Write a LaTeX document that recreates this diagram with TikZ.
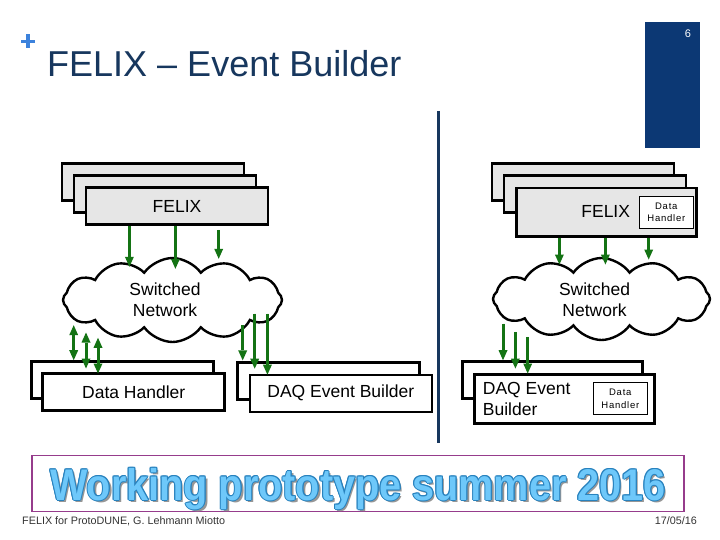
\documentclass[tikz,border=0pt]{standalone}
\usepackage{fontspec}
\setmainfont{Liberation Sans}
\usetikzlibrary{shapes.symbols,arrows.meta,calc}
\definecolor{titlenavy}{RGB}{23,55,94}
\definecolor{rectnavy}{RGB}{12,56,116}
\definecolor{plusblue}{RGB}{60,130,220}
\definecolor{arrgreen}{RGB}{20,115,20}
\definecolor{boxgray}{RGB}{230,230,230}
\definecolor{purpleb}{RGB}{150,60,140}
\definecolor{wpfill}{RGB}{110,200,250}
\definecolor{wpline}{RGB}{40,130,190}
\definecolor{wpshadow}{RGB}{150,150,150}
\newcommand{\wptxt}{\scalebox{1}[1.12]{Working prototype summer 2016}}
\begin{document}
\begin{tikzpicture}[x=1pt,y=-1pt,
  blk/.style={draw=black,line width=2.6pt,minimum width=182pt,minimum height=37pt,inner sep=0pt,anchor=center,font=\fontsize{17.5}{21}\selectfont},
  fbox/.style={blk,fill=boxgray},
  wbox/.style={blk,fill=white},
  dh/.style={draw=black,line width=1pt,fill=white,minimum width=54pt,minimum height=32pt,inner sep=0pt,align=center,font=\fontsize{9.5}{12.5}\selectfont\addfontfeatures{LetterSpace=8}},
  net/.style={cloud,cloud puffs=12,cloud puff arc=110,aspect=2.6,draw=black,line width=2.4pt,fill=white,inner sep=0pt},
  lbl/.style={font=\fontsize{17.5}{21}\selectfont,align=center,inner sep=0pt},
  arr/.style={-{Triangle[width=9pt,length=10pt,line width=0pt]},draw=arrgreen,fill=arrgreen,line width=3pt},
  darr/.style={{Triangle[width=9pt,length=10pt,line width=0pt]}-{Triangle[width=9pt,length=10pt,line width=0pt]},draw=arrgreen,fill=arrgreen,line width=3pt},
  wp/.style={font=\fontsize{39.6}{44}\selectfont\bfseries,inner sep=0pt,anchor=base}
]
\fill[white] (0,0) rectangle (720,540);
\useasboundingbox (0,0) rectangle (720,540);

% header
\draw[plusblue,line width=3.5pt] (21,41.5) -- (35,41.5);
\draw[plusblue,line width=3.5pt] (28,34.5) -- (28,48.5);
\node[anchor=base west,text=titlenavy,font=\fontsize{36}{40}\selectfont,inner sep=0pt] (title) at (47,77) {FELIX – Event Builder};
\fill[rectnavy] (645,22) rectangle (700,148);
\node[text=white,font=\fontsize{11}{13}\selectfont,inner sep=0pt] (pg) at (688,34) {6};

% divider
\draw[titlenavy,line width=3pt] (438,111) -- (438,443);

% left FELIX stack
\node[fbox] (fL3) at (153,182) {};
\node[fbox] (fL2) at (165,194) {};
\node[fbox] (fL1) at (177,206) {FELIX};

% right FELIX stack
\node[fbox] (fR3) at (583,182) {};
\node[fbox] (fR2) at (595,194) {};
\node[fbox,minimum width=180pt,minimum height=48pt] (fR1) at (606.7,212.2) {};
\node[lbl] (fRt) at (605.7,211.7) {FELIX};
\node[dh] (dhR1) at (666.3,212.5) {Data\\Handler};

% clouds
\node[net,minimum width=219pt,minimum height=84pt] (cL) at (172.5,300) {};
\node[lbl] (cLt) at (165,299.5) {Switched\\Network};
\node[net,minimum width=217pt,minimum height=82pt] (cR) at (601.5,299) {};
\node[lbl] (cRt) at (594.5,299.5) {Switched\\Network};

% bottom left
\node[wbox] (dL2) at (122.5,380) {};
\node[wbox] (dL1) at (133.7,392) {Data Handler};
\node[wbox] (eL2) at (328.3,381) {};
\node[wbox] (eL1) at (340.8,393.3) {DAQ Event Builder};

% bottom right
\node[wbox,minimum width=180pt] (eR2) at (552.7,380) {};
\node[wbox,minimum width=180pt,minimum height=49pt] (eR1) at (564.7,398.7) {};
\node[lbl,align=left,anchor=north west] (eRt) at (482.7,382) {DAQ Event\\Builder};
\node[dh] (dhR2) at (620.3,398.8) {Data\\Handler};

% arrows FELIX -> network (left)
\draw[arr] ($(fL1.south west)+(44.7,0)$) -- ($(fL1.south west)+(44.7,41)$);
\draw[arr] ($(fL1.south west)+(90.7,0)$) -- ($(fL1.south west)+(90.7,43)$);
\draw[arr] ($(fL1.south west)+(134,4)$) -- ($(fL1.south west)+(134,33)$);
% arrows FELIX -> network (right)
\draw[arr] ($(fR1.south west)+(44,0)$) -- ($(fR1.south west)+(44,27)$);
\draw[arr] ($(fR1.south west)+(90,0)$) -- ($(fR1.south west)+(90,27)$);
\draw[arr] ($(fR1.south west)+(133.3,0)$) -- ($(fR1.south west)+(133.3,22)$);

% network <-> data handler
\draw[darr] ($(dL2.north west)+(43.5,-35)$) -- ($(dL2.north west)+(43.5,0)$);
\draw[darr] ($(dL2.north west)+(55.8,-27.7)$) -- ($(dL2.north west)+(55.8,8.3)$);
\draw[darr] ($(dL2.north west)+(67.8,-22.4)$) -- ($(dL2.north west)+(67.8,13.3)$);
% network -> DAQ event builder (left)
\draw[arr] ($(eL2.north west)+(6.7,-35.8)$) -- ($(eL2.north west)+(6.7,-0.8)$);
\draw[arr] ($(eL2.north west)+(18.7,-47.5)$) -- ($(eL2.north west)+(18.7,7.5)$);
\draw[arr] ($(eL2.north west)+(31.4,-47.5)$) -- ($(eL2.north west)+(31.4,13.5)$);
% network -> DAQ event builder (right)
\draw[arr] ($(eR2.north west)+(41.6,-36.7)$) -- ($(eR2.north west)+(41.6,0)$);
\draw[arr] ($(eR2.north west)+(54,-28.4)$) -- ($(eR2.north west)+(54,8.3)$);
\draw[arr] ($(eR2.north west)+(66.3,-23.4)$) -- ($(eR2.north west)+(66.3,13.3)$);

% working prototype banner
\node[draw=purpleb,line width=1.3pt,minimum width=652pt,minimum height=56pt,inner sep=0pt] (wpbox) at (358,483.5) {};
\node[wp,text=wpshadow] (wps) at (360.3,502.3) {\wptxt};
\foreach \dx/\dy [count=\i] in {1/0,-1/0,0/1,0/-1,0.7/0.7,-0.7/0.7,0.7/-0.7,-0.7/-0.7}
  \node[wp,text=wpline] (wpo\i) at (358+\dx,500+\dy) {\wptxt};
\node[wp,text=wpfill] (wpt) at (358,500) {\wptxt};

% footer
\node[anchor=base west,font=\fontsize{10.8}{12}\selectfont,text=black!80,inner sep=0pt] (foot) at (22,524) {FELIX for ProtoDUNE, G. Lehmann Miotto};
\node[anchor=base east,font=\fontsize{10.8}{12}\selectfont,text=black!80,inner sep=0pt] (date) at (697,524) {17/05/16};
\end{tikzpicture}
\end{document}
